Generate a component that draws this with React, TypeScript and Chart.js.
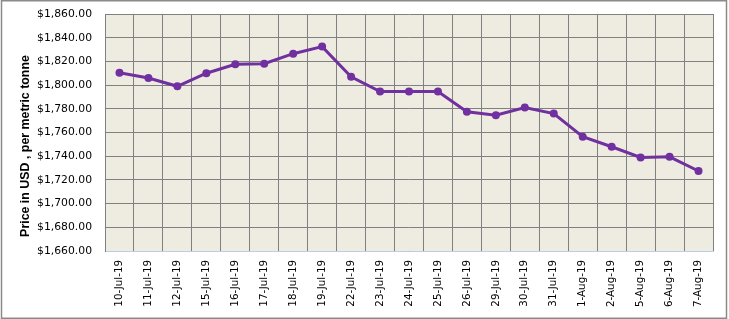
import React, { useEffect, useRef } from "react";
import { Chart, registerables } from "chart.js";

Chart.register(...registerables);

const categories: string[] = [
  "10-Jul-19", "11-Jul-19", "12-Jul-19", "15-Jul-19", "16-Jul-19", "17-Jul-19",
  "18-Jul-19", "19-Jul-19", "22-Jul-19", "23-Jul-19", "24-Jul-19", "25-Jul-19",
  "26-Jul-19", "29-Jul-19", "30-Jul-19", "31-Jul-19", "1-Aug-19", "2-Aug-19",
  "5-Aug-19", "6-Aug-19", "7-Aug-19",
];

const prices: number[] = [
  1810.5, 1806, 1799, 1810, 1817.5, 1818, 1826.5, 1832.5, 1807, 1794.5, 1794.5,
  1794.5, 1777.5, 1774.5, 1781, 1776, 1756.5, 1748, 1739, 1739.5, 1727.5,
];

const yMin = 1660;
const yMax = 1860;
const yStep = 20;
const yTitle = "Price in USD , per metric tonne";

function formatUsd(v: number): string {
  const fixed = v.toFixed(2);
  const [intPart, dec] = fixed.split(".");
  const withCommas = intPart.replace(/\B(?=(\d{3})+(?!\d))/g, ",");
  return "$" + withCommas + "." + dec;
}

const decorPlugin = {
  id: "decor",
  beforeDraw(chart: any) {
    const { ctx, chartArea } = chart;
    ctx.save();
    ctx.fillStyle = "#ffffff";
    ctx.fillRect(0, 0, chart.width, chart.height);
    ctx.fillStyle = "#EEECE1";
    ctx.fillRect(
      chartArea.left,
      chartArea.top,
      chartArea.right - chartArea.left,
      chartArea.bottom - chartArea.top
    );
    ctx.restore();
  },
  afterDraw(chart: any) {
    const { ctx } = chart;
    ctx.save();
    ctx.strokeStyle = "#8a8a8a";
    ctx.lineWidth = 1.5;
    ctx.strokeRect(1.5, 0.75, chart.width - 4, chart.height - 1.5);
    ctx.translate(26, 146);
    ctx.rotate(-Math.PI / 2);
    ctx.fillStyle = "#000000";
    ctx.font = "bold 12.4px 'Liberation Sans'";
    ctx.textAlign = "center";
    ctx.textBaseline = "middle";
    ctx.fillText(yTitle, 0, 0);
    ctx.restore();
  },
};

export default function App() {
  const canvasRef = useRef<HTMLCanvasElement | null>(null);

  useEffect(() => {
    document.body.style.margin = "0";
    const canvas = canvasRef.current;
    if (!canvas) return;
    const chart = new Chart(canvas, {
      type: "line",
      data: {
        labels: categories,
        datasets: [
          {
            data: prices,
            borderColor: "#7030A0",
            backgroundColor: "#7030A0",
            borderWidth: 3,
            pointRadius: 4,
            pointBorderWidth: 0,
            pointHoverRadius: 4,
            pointBackgroundColor: "#7030A0",
            pointBorderColor: "#7030A0",
            tension: 0,
          },
        ],
      },
      options: {
        responsive: false,
        animation: false,
        devicePixelRatio: 1,
        layout: { autoPadding: false, padding: { top: 14, right: 16, left: 0, bottom: 0 } },
        plugins: {
          legend: { display: false },
          tooltip: { enabled: false },
          title: { display: false },
        },
        scales: {
          x: {
            offset: true,
            grid: {
              offset: true,
              color: "#808080",
              lineWidth: 1,
              drawTicks: false,
            },
            border: { color: "#B9CDE5", width: 1 },
            ticks: {
              autoSkip: false,
              maxRotation: 90,
              minRotation: 90,
              padding: 9,
              color: "#000000",
              font: { family: "'DejaVu Sans'", size: 10.3 },
            },
            afterFit(scale: any) {
              scale.height = 68;
              scale.paddingLeft = 0;
              scale.paddingRight = 0;
            },
          },
          y: {
            min: yMin,
            max: yMax,
            grid: { color: "#808080", lineWidth: 1, drawTicks: false },
            border: { color: "#808080", width: 1 },
            ticks: {
              stepSize: yStep,
              padding: 13,
              color: "#000000",
              font: { family: "'DejaVu Sans'", size: 10.8 },
              callback: (v: any) => formatUsd(Number(v)),
            },
            afterFit(scale: any) {
              scale.width = 105;
              scale.paddingTop = 0;
              scale.paddingBottom = 0;
            },
          },
        },
      },
      plugins: [decorPlugin],
    });
    return () => chart.destroy();
  }, []);

  return (
    <div style={{ position: "absolute", left: 0, top: 0, width: 729, height: 319 }}>
      <canvas ref={canvasRef} width={729} height={319} />
    </div>
  );
}
